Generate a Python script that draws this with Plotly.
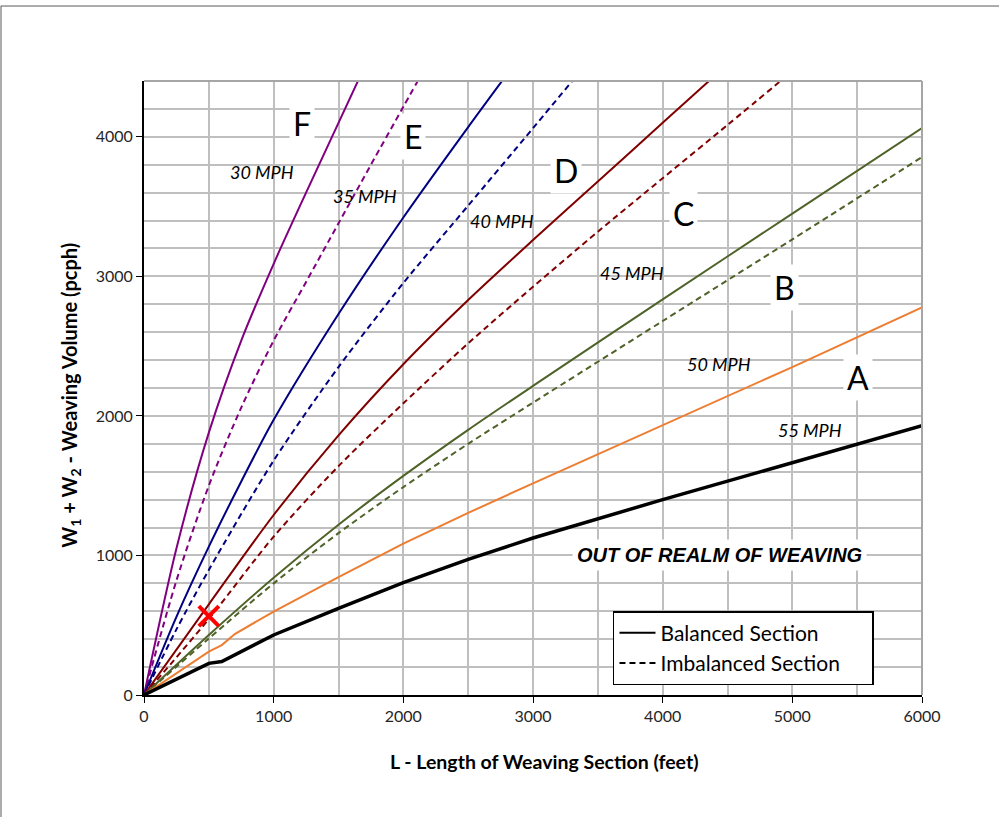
import plotly.graph_objects as go

# weaving-volume vs length curves
L_30_BAL = [0, 250, 500, 750, 1000, 1250, 1500, 1750]
V_30_BAL = [0, 1050, 1880, 2540, 3090, 3600, 4100, 4600]
L_30_IMB = [0, 250, 500, 750, 1000, 1250, 1500, 1750, 2000, 2250]
V_30_IMB = [0, 820, 1500, 2060, 2540, 2960, 3380, 3800, 4215, 4630]

L_35_BAL = [0, 250, 500, 750, 1000, 1500, 2000, 2500, 3000]
V_35_BAL = [0, 560, 1063, 1530, 1972, 2730, 3422, 4070, 4700]
L_35_IMB = [0, 250, 500, 1000, 1500, 2000, 2500, 3000, 3500]
V_35_IMB = [0, 470, 896, 1680, 2350, 2952, 3507, 4062, 4620]

L_40_BAL = [0, 500, 1000, 1500, 2000, 2500, 3000, 3500, 4000, 4500]
V_40_BAL = [0, 650, 1290, 1860, 2370, 2830, 3260, 3680, 4100, 4520]
L_40_IMB = [0, 500, 1000, 1500, 2000, 2500, 3000, 3500, 4000, 4500, 5000]
V_40_IMB = [0, 545, 1135, 1640, 2090, 2520, 2925, 3320, 3703, 4085, 4470]

L_45_BAL = [0, 500, 1000, 1500, 2000, 2500, 3000, 4000, 5000, 6000]
V_45_BAL = [0, 430, 840, 1220, 1570, 1900, 2215, 2835, 3450, 4063]
L_45_IMB = [0, 500, 1000, 1500, 2000, 2500, 3000, 4000, 5000, 6000]
V_45_IMB = [0, 405, 800, 1160, 1490, 1800, 2095, 2680, 3265, 3855]

L_50_BAL = [0, 500, 600, 700, 1000, 1500, 2000, 2500, 3000, 4000, 5000, 6000]
V_50_BAL = [0, 311, 358, 437, 598, 845, 1085, 1305, 1517, 1935, 2350, 2778]

L_55_BAL = [0, 500, 600, 1000, 1500, 2000, 2500, 3000, 4000, 5000, 6000]
V_55_BAL = [0, 227, 240, 430, 621, 805, 972, 1125, 1400, 1668, 1930]

MARK_L = [500]
MARK_V = [565]

LOS_LETTERS = ["F", "E", "D", "C", "B", "A"]
LOS_L = [1218, 2074, 3254, 4164, 4936, 5506]
LOS_V = [4099, 3999, 3762, 3447, 2917, 2272]

SPEED_TXT = ["30 MPH", "35 MPH", "40 MPH", "45 MPH", "50 MPH", "55 MPH"]
SPEED_L = [910, 1704, 2761, 3763, 4434, 5136]
SPEED_V = [3748, 3576, 3397, 3024, 2372, 1899]

_PURPLE = "#800080"
_BLUE = "#000080"
_RED = "#800000"
_GREEN = "#4f6228"
_ORANGE = "#ed7d31"
_GRID = "#bfbfbf"
_DASH = "6px,4px"
_FONT = "Lato, 'Open Sans', sans-serif"
_PAD = "&nbsp;" * 5   # extra room on the right of the legend box

fig = go.Figure()


def _curve(x, y, color, width=2, dash=None, smooth=True):
    fig.add_trace(go.Scatter(
        x=x, y=y, mode="lines", showlegend=False, hoverinfo="skip",
        line=dict(color=color, width=width, dash=dash,
                  shape="spline" if smooth else "linear", smoothing=0.8),
    ))


_curve(L_30_BAL, V_30_BAL, _PURPLE)
_curve(L_30_IMB, V_30_IMB, _PURPLE, dash=_DASH)
_curve(L_35_BAL, V_35_BAL, _BLUE)
_curve(L_35_IMB, V_35_IMB, _BLUE, dash=_DASH)
_curve(L_40_BAL, V_40_BAL, _RED)
_curve(L_40_IMB, V_40_IMB, _RED, dash=_DASH)
_curve(L_45_BAL, V_45_BAL, _GREEN)
_curve(L_45_IMB, V_45_IMB, _GREEN, dash=_DASH)
_curve(L_50_BAL, V_50_BAL, _ORANGE, smooth=False)
_curve(L_55_BAL, V_55_BAL, "#000000", width=3.5, smooth=False)

fig.add_trace(go.Scatter(
    x=MARK_L, y=MARK_V, mode="markers", showlegend=False, hoverinfo="skip",
    marker=dict(symbol="x-thin", size=20, line=dict(color="#ff0000", width=4)),
))

# legend-only entries
fig.add_trace(go.Scatter(x=[None], y=[None], mode="lines", name="Balanced Section",
                         line=dict(color="black", width=2)))
fig.add_trace(go.Scatter(x=[None], y=[None], mode="lines", name="Imbalanced Section" + _PAD,
                         line=dict(color="black", width=2, dash=_DASH)))

for t, x, y in zip(LOS_LETTERS, LOS_L, LOS_V):
    fig.add_annotation(x=x, y=y, text=t, showarrow=False, bgcolor="white",
                       borderpad=3, font=dict(family=_FONT, size=32, color="black"))

for t, x, y in zip(SPEED_TXT, SPEED_L, SPEED_V):
    fig.add_annotation(x=x, y=y, text=f"<i>{t}</i>", showarrow=False,
                       font=dict(family=_FONT, size=18, color="black"))

fig.add_annotation(x=4442, y=1003, text="<b><i>OUT OF REALM OF WEAVING</i></b>",
                   showarrow=False, bgcolor="white", borderpad=4,
                   font=dict(family="Liberation Sans, Arial", size=20, color="black"))

# axis titles
fig.add_annotation(xref="paper", yref="paper", x=-0.114, y=0.4886, textangle=-90,
                   text="<b>W<sub>1</sub> + W<sub>2</sub> - Weaving Volume (pcph)</b>",
                   showarrow=False, font=dict(family=_FONT, size=20, color="black"))
fig.add_annotation(xref="paper", yref="paper", x=0.5154, y=-0.1303,
                   text="<b>L - Length of Weaving Section (feet)</b>",
                   showarrow=False, font=dict(family=_FONT, size=19.5, color="black"))

# plot-area top/right border + outer frame
fig.add_shape(type="line", xref="paper", yref="paper", x0=0, x1=1, y0=1, y1=1,
              line=dict(color="#a6a6a6", width=2))
fig.add_shape(type="line", xref="paper", yref="paper", x0=1, x1=1, y0=0, y1=1,
              line=dict(color="#a6a6a6", width=2))
fig.add_shape(type="line", xref="paper", yref="paper", x0=-0.184, x1=1.1, y0=1.1221, y1=1.1221,
              line=dict(color="#595959", width=1))
fig.add_shape(type="line", xref="paper", yref="paper", x0=-0.1838, x1=-0.1838, y0=-0.2, y1=1.1221,
              line=dict(color="#595959", width=1))

fig.update_layout(
    width=999, height=817,
    paper_bgcolor="white", plot_bgcolor="white",
    margin=dict(l=144, r=77, t=81, b=122),
    font=dict(family=_FONT, color="#262626", size=16),
    legend=dict(x=0.6028, y=0.1368, xanchor="left", yanchor="top",
                bgcolor="white", bordercolor="black", borderwidth=1.5,
                font=dict(family=_FONT, size=21, color="black"),
                itemwidth=36, tracegroupgap=0),
    xaxis=dict(range=[0, 6000], dtick=1000, tick0=0, showgrid=True,
               gridcolor=_GRID, gridwidth=2, zeroline=False,
               minor=dict(dtick=500, showgrid=True, gridcolor=_GRID, gridwidth=2),
               showline=True, linecolor="black", linewidth=2,
               ticks="outside", ticklen=6, tickcolor="black",
               tickfont=dict(size=16, color="#262626")),
    yaxis=dict(range=[0, 4400], dtick=1000, tick0=0, showgrid=True,
               gridcolor=_GRID, gridwidth=2, zeroline=False,
               minor=dict(dtick=200, showgrid=True, gridcolor=_GRID, gridwidth=2),
               showline=True, linecolor="black", linewidth=2,
               ticks="outside", ticklen=6, tickcolor="black",
               tickfont=dict(size=16, color="#262626")),
)

# page body margin would shift the figure by 8px
fig.write_html("out.html", config={"displayModeBar": False},
               post_script="document.body.style.margin='0';")
